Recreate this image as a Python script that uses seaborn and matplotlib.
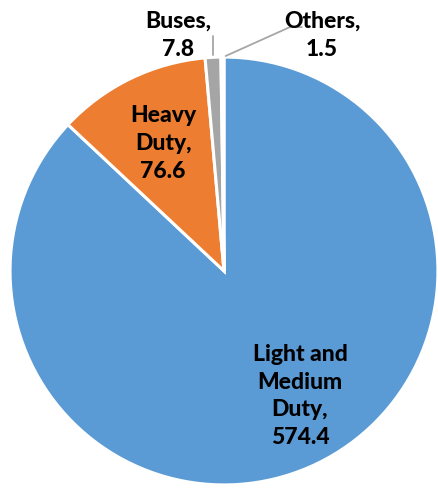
import numpy as np
import matplotlib
matplotlib.use("Agg")
import matplotlib.pyplot as plt
import seaborn as sns

sns.set_theme(style="white")
plt.rcParams['font.family'] = ['Lato', 'DejaVu Sans']

categories = ["Light and\nMedium\nDuty", "Heavy\nDuty", "Buses", "Others"]
values = [574.4, 76.6, 7.8, 1.5]
colors = ["#5B9BD5", "#ED7D31", "#A5A5A5", "#A5A5A5"]

fig = plt.figure(figsize=(4.39, 4.89), dpi=100)
ax = fig.add_axes([0, 0, 1, 1])
wedges, _ = ax.pie(values, colors=colors, startangle=90, counterclock=False,
                   radius=1.0, wedgeprops=dict(edgecolor="white", linewidth=2.2))
ax.set_xlim(-1.047, 1.005)
ax.set_ylim(-1.014, 1.271)
ax.set_aspect("equal")
ax.axis("off")

fs = 16.5
fw = 900
ls = 1.4
labels = [f"{c},\n{v:.1f}" for c, v in zip(categories, values)]
# inside labels
ax.text(0.355, -0.58, labels[0], ha="center", va="center", fontsize=fs,
        fontweight=fw, linespacing=ls, color="black")
ax.text(-0.285, 0.60, labels[1], ha="center", va="center", fontsize=fs,
        fontweight=fw, linespacing=ls, color="black")

# outside labels with leader lines
def edge_point(w):
    ang = np.deg2rad((w.theta1 + w.theta2) / 2)
    return np.cos(ang), np.sin(ang)

bx, by = edge_point(wedges[2])
ax.plot([bx, bx], [by + 0.01, 1.098], color="#A6A6A6", lw=1.3)
ax.text(-0.215, 1.107, labels[2], ha="center", va="center", fontsize=fs,
        fontweight=fw, linespacing=ls, color="black")

ox, oy = edge_point(wedges[3])
ax.plot([ox + 0.015, 0.308, 0.364], [oy + 0.005, 1.140, 1.140], color="#A6A6A6", lw=1.3)
ax.text(0.458, 1.107, labels[3], ha="center", va="center", fontsize=fs,
        fontweight=fw, linespacing=ls, color="black")

fig.savefig("out.png", dpi=100)
